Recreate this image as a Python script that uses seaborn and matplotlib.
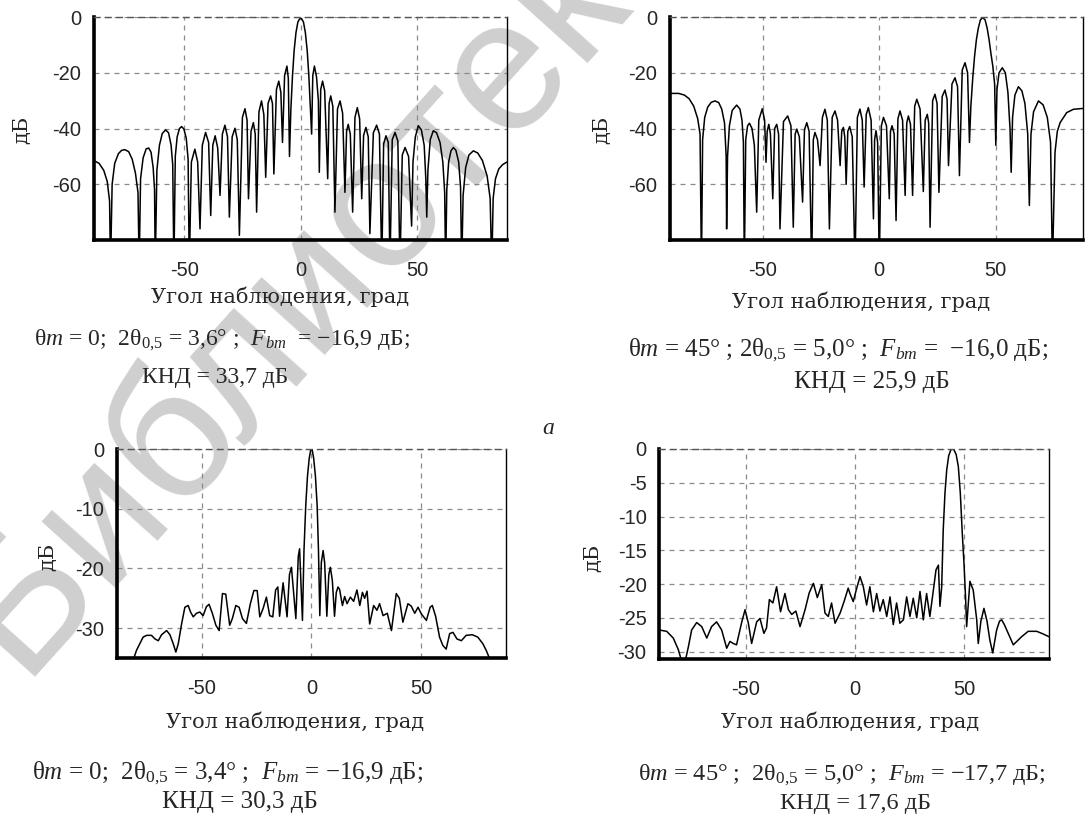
import matplotlib
matplotlib.use("Agg")
import matplotlib.pyplot as plt
from matplotlib.ticker import MultipleLocator
import seaborn as sns

# ---- values: angle (deg) and level (dB) ----
# a) top left, theta_m = 0
tl_angle = [-88.7, -86.5, -84.5, -83.0, -82.0, -81.6, -80.9, -79.8, -78.2, -76.8, -75.4, -73.8, -72.3, -70.9,
            -69.8, -69.3, -68.7, -67.6, -66.3, -65.2, -64.2, -63.3, -62.7, -62.4, -61.7, -60.6, -59.4, -58.0,
            -56.7, -55.6, -54.9, -54.4, -53.8, -53.0, -52.0, -51.1, -50.1, -49.1, -48.3, -47.8, -46.9, -45.4,
            -44.2, -43.2, -42.2, -40.8, -39.5, -38.6, -37.7, -36.7, -35.6, -34.6, -33.6, -32.5, -31.4, -30.6,
            -29.4, -28.2, -27.2, -26.3, -25.0, -23.9, -23.0, -22.4, -21.3, -20.3, -19.5, -18.9, -17.9, -16.8,
            -15.8, -15.0, -14.0, -12.9, -12.1, -11.5, -10.4, -9.4, -8.5, -7.8, -6.9, -5.9, -5.3, -4.8, -4.2,
            -3.5, -2.8, -2.0, -1.2, -0.4, 0.4, 1.2, 2.0, 2.8, 3.5, 4.2, 4.7, 5.2, 5.9, 6.8, 7.6, 8.0, 8.6, 9.4,
            10.3, 11.6, 12.2, 12.9, 13.8, 14.7, 15.8, 16.9, 18.0, 19.0, 19.7, 20.4, 21.3, 22.3, 23.3, 24.3,
            25.3, 26.2, 27.0, 28.0, 29.0, 29.7, 31.2, 32.6, 33.8, 34.8, 35.6, 36.6, 37.6, 38.3, 39.3, 40.5,
            41.7, 42.6, 43.6, 44.8, 46.3, 47.6, 48.2, 49.2, 50.5, 51.8, 53.0, 53.7, 54.1, 54.6, 55.6, 56.9,
            58.3, 59.8, 61.0, 61.8, 62.2, 62.7, 63.5, 64.5, 65.5, 66.6, 67.8, 68.6, 69.1, 69.7, 70.8, 72.2,
            74.1, 76.0, 78.0, 80.0, 81.3, 82.0, 82.6, 83.6, 85.0, 86.6, 88.5]
tl_level = [-51.5, -52.5, -55.0, -59.0, -66.0, -90.0, -60.0, -52.5, -49.0, -47.8, -47.6, -48.3, -51.0, -56.0,
            -63.0, -90.0, -58.0, -50.5, -47.3, -47.0, -48.5, -54.0, -62.0, -90.0, -55.0, -46.0, -41.8, -40.5,
            -41.5, -46.0, -53.0, -90.0, -50.0, -43.0, -40.0, -39.3, -40.2, -43.5, -51.0, -90.0, -52.0, -47.4,
            -52.0, -76.0, -46.0, -41.4, -45.0, -71.2, -46.0, -42.6, -47.0, -64.0, -42.0, -38.8, -43.0, -71.8,
            -43.0, -39.9, -44.0, -78.3, -36.0, -32.9, -37.0, -65.2, -41.0, -37.9, -42.0, -70.0, -34.0, -30.1,
            -35.0, -57.5, -31.0, -28.3, -31.0, -56.3, -26.0, -23.0, -27.0, -45.0, -21.0, -17.6, -22.0, -50.0,
            -33.0, -21.0, -12.0, -5.5, -1.8, -0.6, -0.6, -1.8, -5.5, -12.0, -21.0, -33.0, -42.0, -21.0, -17.6,
            -21.5, -30.0, -55.7, -26.0, -23.0, -26.5, -58.0, -31.0, -28.3, -32.0, -70.0, -33.0, -30.1, -34.5,
            -62.9, -41.0, -38.5, -42.0, -70.0, -36.0, -32.5, -36.5, -65.2, -42.5, -39.6, -43.0, -77.7, -41.5,
            -38.8, -42.0, -90.0, -45.5, -42.6, -45.0, -90.0, -44.0, -41.4, -44.5, -90.0, -49.5, -46.8, -50.0,
            -75.0, -52.0, -43.0, -39.0, -40.5, -46.0, -58.0, -71.8, -55.0, -44.0, -40.8, -41.5, -45.0, -52.0,
            -63.0, -90.0, -62.0, -52.0, -48.0, -46.8, -47.8, -52.0, -61.0, -90.0, -64.0, -54.0, -49.5, -48.0,
            -48.8, -51.5, -57.0, -65.0, -90.0, -65.0, -58.0, -54.5, -53.0, -52.0]

# a) top right, theta_m = 45
tr_angle = [-89.7, -86.0, -83.5, -81.5, -79.5, -77.8, -76.8, -76.2, -75.7, -74.8, -73.5, -72.0, -70.4, -68.8,
            -67.5, -66.3, -65.6, -65.4, -65.0, -64.2, -63.0, -61.1, -59.7, -58.8, -58.2, -57.8, -57.2, -56.4,
            -55.6, -54.5, -53.5, -52.5, -51.6, -50.1, -49.1, -48.5, -48.0, -47.3, -46.6, -45.6, -44.8, -43.9,
            -43.1, -42.5, -41.0, -39.2, -37.8, -36.8, -36.0, -35.3, -34.2, -32.8, -32.0, -31.0, -30.0, -28.9,
            -28.2, -27.5, -26.4, -25.3, -24.3, -23.2, -22.2, -21.3, -20.1, -18.9, -17.8, -16.7, -16.0, -15.3,
            -14.7, -14.1, -13.4, -12.6, -11.5, -10.3, -9.3, -8.2, -7.2, -6.4, -5.5, -4.6, -3.4, -2.4, -1.9,
            -1.3, -0.6, 0.1, 1.0, 1.9, 3.2, 4.4, 4.9, 5.6, 6.5, 7.3, 8.1, 9.0, 10.1, 11.2, 11.9, 12.6, 13.5,
            14.4, 15.3, 16.2, 17.6, 19.0, 19.8, 20.7, 21.3, 21.9, 23.0, 24.0, 24.9, 25.7, 27.1, 28.3, 29.2,
            29.8, 31.3, 32.6, 33.7, 34.5, 35.7, 36.9, 38.0, 38.8, 39.4, 40.2, 41.0, 41.8, 42.6, 43.5, 44.5,
            45.5, 46.4, 47.2, 48.0, 48.8, 49.6, 50.1, 50.6, 51.5, 52.9, 54.2, 55.3, 56.2, 56.7, 57.3, 58.3,
            59.8, 61.3, 62.6, 63.8, 64.5, 65.2, 66.3, 68.4, 70.4, 72.2, 73.6, 74.4, 75.5, 76.5, 77.7, 80.5,
            83.4, 87.4]
tr_level = [-27.4, -27.4, -28.0, -29.3, -32.0, -36.5, -42.0, -90.0, -44.0, -36.0, -32.3, -30.6, -30.1, -30.7,
            -33.0, -38.0, -50.0, -76.0, -50.0, -39.0, -33.5, -31.6, -33.0, -37.0, -45.0, -90.0, -44.0, -39.0,
            -38.1, -40.0, -46.0, -70.0, -37.0, -32.9, -37.0, -52.1, -41.0, -38.5, -42.0, -65.2, -40.0, -38.5,
            -42.0, -76.0, -37.5, -35.5, -39.0, -75.4, -42.0, -40.2, -43.0, -66.4, -40.5, -37.9, -41.0, -90.0,
            -44.0, -41.4, -44.0, -53.3, -36.0, -33.1, -37.0, -76.0, -36.0, -33.7, -37.0, -53.3, -41.0, -39.6,
            -43.0, -60.0, -41.0, -39.3, -43.0, -90.0, -36.0, -33.0, -37.0, -61.0, -35.0, -32.5, -37.0, -72.4,
            -44.0, -40.8, -45.0, -90.0, -39.0, -36.0, -39.0, -65.2, -41.0, -39.0, -42.0, -73.0, -36.5, -33.7,
            -37.0, -64.0, -38.0, -35.5, -38.5, -64.0, -32.0, -29.5, -33.0, -62.6, -37.0, -34.9, -38.0, -75.4,
            -30.0, -27.7, -31.0, -62.9, -28.5, -26.2, -29.5, -53.3, -24.0, -21.8, -25.0, -56.9, -19.0, -16.4,
            -20.0, -45.0, -32.0, -22.0, -14.0, -8.0, -4.0, -1.0, -0.2, -1.0, -4.0, -8.0, -13.0, -17.5, -24.0,
            -46.0, -26.0, -20.0, -18.2, -20.0, -27.0, -40.0, -55.7, -36.0, -28.0, -25.0, -26.5, -31.0, -42.0,
            -67.6, -42.0, -34.0, -30.1, -31.5, -36.0, -45.0, -90.0, -48.6, -41.0, -37.9, -34.3, -33.1, -32.8]

# б) bottom left, theta_m = 0
bl_angle = [-88.5, -81.5, -80.8, -79.6, -78.1, -76.6, -75.0, -72.8, -71.2, -69.7, -68.2, -65.9, -64.4, -62.9,
            -61.7, -60.6, -59.1, -57.6, -56.1, -55.0, -53.8, -52.3, -50.8, -49.3, -47.8, -46.6, -45.1, -43.5,
            -42.0, -40.5, -39.0, -37.2, -36.0, -34.4, -32.9, -31.4, -29.6, -27.8, -26.2, -24.7, -23.5, -22.0,
            -20.5, -19.0, -17.6, -16.3, -15.3, -14.5, -12.9, -11.1, -10.0, -9.1, -7.1, -6.0, -5.4, -4.1, -3.4,
            -2.6, -1.8, -1.0, -0.3, 0.3, 1.0, 1.8, 2.6, 3.2, 3.8, 4.5, 5.3, 6.0, 7.0, 7.9, 8.6, 9.5, 10.5, 11.3,
            12.1, 12.8, 14.1, 15.1, 16.2, 17.7, 19.2, 20.7, 22.0, 23.2, 24.2, 25.3, 26.5, 28.3, 29.8, 31.0,
            32.6, 34.5, 36.4, 38.6, 40.0, 41.6, 43.9, 45.4, 47.0, 48.5, 50.0, 52.3, 54.0, 55.0, 56.5, 58.3,
            59.8, 61.3, 62.9, 64.4, 66.2, 68.2, 70.4, 73.2, 75.7, 78.0, 79.5, 81.3, 82.5, 88.5]
bl_level = [-36.0, -36.0, -35.0, -33.7, -32.6, -31.5, -31.2, -31.2, -31.8, -32.1, -31.1, -30.4, -31.1, -32.6,
            -34.0, -32.6, -29.3, -26.5, -26.2, -27.3, -28.1, -27.5, -27.3, -27.9, -26.4, -26.0, -27.5, -29.5,
            -30.4, -24.2, -24.3, -29.5, -28.4, -26.2, -26.5, -28.4, -29.2, -25.9, -23.7, -23.7, -28.1, -26.7,
            -24.8, -27.9, -28.1, -23.6, -23.1, -28.0, -22.4, -28.1, -21.0, -19.8, -28.4, -18.0, -16.7, -28.7,
            -17.0, -9.5, -4.5, -1.5, -0.1, -0.1, -1.5, -4.5, -9.5, -17.0, -27.9, -19.0, -17.0, -19.0, -28.0,
            -21.0, -19.8, -22.0, -28.0, -24.0, -23.1, -23.5, -26.2, -24.7, -25.9, -24.8, -25.5, -23.6, -26.2,
            -24.0, -25.0, -23.8, -29.3, -26.2, -27.0, -25.9, -27.9, -27.5, -30.4, -24.2, -25.0, -29.0, -25.9,
            -26.3, -27.5, -26.5, -27.6, -28.7, -26.5, -26.2, -28.0, -31.5, -32.9, -33.5, -30.9, -30.7, -31.8,
            -32.1, -31.2, -31.1, -31.5, -32.6, -33.7, -35.3, -36.0, -36.0]

# б) bottom right, theta_m = 45
br_angle = [-89.5, -86.0, -83.0, -80.7, -79.1, -77.6, -76.1, -74.6, -72.3, -70.0, -67.7, -65.5, -63.2, -60.9,
            -58.6, -57.1, -55.6, -54.1, -51.7, -50.2, -48.7, -47.2, -44.9, -43.4, -41.6, -40.4, -39.1, -37.5,
            -35.8, -34.0, -32.0, -30.4, -28.9, -27.0, -25.1, -22.8, -20.9, -19.0, -17.2, -15.2, -13.7, -12.2,
            -10.7, -9.1, -6.8, -5.0, -3.1, -2.3, -0.8, 0.8, 2.3, 3.8, 5.3, 6.8, 8.4, 9.9, 11.4, 12.9, 14.5,
            16.0, 17.5, 19.0, 20.5, 22.1, 23.6, 25.1, 26.6, 28.2, 29.7, 31.2, 32.7, 34.2, 35.8, 37.0, 38.1,
            38.8, 39.6, 40.3, 41.1, 41.9, 42.8, 43.8, 45.0, 46.2, 47.2, 48.1, 49.0, 49.8, 50.5, 51.0, 52.5,
            54.0, 55.6, 56.3, 57.5, 58.9, 60.3, 61.6, 62.9, 64.7, 66.0, 67.0, 68.2, 69.3, 72.3, 74.2, 76.1,
            79.1, 83.0, 86.0, 88.6]
br_level = [-26.8, -27.0, -28.0, -29.7, -31.5, -31.5, -29.3, -26.8, -25.7, -26.3, -28.0, -26.3, -25.6, -26.8,
            -29.5, -28.5, -28.8, -29.0, -25.6, -23.8, -25.8, -28.8, -25.6, -25.1, -27.3, -26.5, -22.3, -22.8,
            -20.4, -24.1, -21.4, -23.8, -24.5, -24.0, -26.3, -23.8, -21.3, -19.9, -22.0, -20.1, -24.3, -24.8,
            -22.8, -25.8, -24.3, -22.6, -20.6, -21.4, -22.6, -20.6, -18.9, -20.4, -23.1, -20.4, -24.1, -21.4,
            -24.0, -22.3, -24.8, -21.9, -26.0, -22.8, -25.8, -25.3, -21.9, -24.8, -22.1, -25.0, -21.1, -25.3,
            -21.4, -24.8, -20.9, -17.9, -17.2, -23.3, -20.4, -12.0, -6.5, -3.1, -1.0, -0.1, 0.0, -0.8, -2.6,
            -6.5, -12.5, -17.0, -22.0, -26.3, -19.6, -20.9, -25.3, -28.8, -25.5, -23.6, -25.5, -28.3, -30.2,
            -26.8, -25.5, -25.3, -26.0, -26.8, -29.0, -28.4, -27.8, -27.0, -27.0, -27.4, -27.8]

x_ticks = [-50, 0, 50]
tl_yticks = [-60, -40, -20, 0]
bl_yticks = [-30, -20, -10, 0]
br_yticks = [-30, -25, -20, -15, -10, -5, 0]

x_title = "Угол наблюдения, град"
y_title = "дБ"

cap_tl = [r"$\mathrm{\theta}m$ = 0;  2$\mathrm{\theta}_{0{,}5}$ = 3,6° ;  $F_{bm}$  = −16,9 дБ;",
          "КНД = 33,7 дБ"]
cap_tr = [r"$\mathrm{\theta}m$ = 45° ; 2$\mathrm{\theta}_{0{,}5}$ = 5,0° ;  $F_{bm}$ =  −16,0 дБ;",
          "КНД = 25,9 дБ"]
cap_bl = [r"$\mathrm{\theta}m$ = 0;  2$\mathrm{\theta}_{0{,}5}$ = 3,4° ;  $F_{bm}$ = −16,9 дБ;",
          "КНД = 30,3 дБ"]
cap_br = [r"$\mathrm{\theta}m$ = 45° ;  2$\mathrm{\theta}_{0{,}5}$ = 5,0° ;  $F_{bm}$ = −17,7 дБ;",
          "КНД = 17,6 дБ"]

sns.set_style("white")
plt.rcParams["font.family"] = ["Liberation Sans", "DejaVu Sans"]
plt.rcParams["axes.unicode_minus"] = False
plt.rcParams["mathtext.fontset"] = "custom"
plt.rcParams["mathtext.rm"] = "Liberation Serif"
plt.rcParams["mathtext.it"] = "Liberation Serif:italic"

fig = plt.figure(figsize=(10.85, 8.15), dpi=100)

# faint library watermark lying under the plots
fig.text(0.300, 0.675, "Библиотека", rotation=48, fontsize=135, color="#cfcfcf",
         ha="center", va="center", zorder=-1, family="Liberation Sans")


def panel(rect, angle, level, xlim, ylim, yticks, yminor, xlab_pos, ylab_pos):
    ax = fig.add_axes(rect)
    ax.set_facecolor("none")
    sns.lineplot(x=angle, y=level, ax=ax, color="black", linewidth=1.1,
                 estimator=None, sort=False)
    ax.set_xlim(*xlim)
    ax.set_ylim(*ylim)
    ax.set_xticks(x_ticks)
    ax.set_yticks(yticks)
    ax.xaxis.set_minor_locator(MultipleLocator(12.5))
    ax.yaxis.set_minor_locator(MultipleLocator(yminor))
    ax.grid(True, which="major", color="#8a8a8a", linestyle=(0, (4, 4)), linewidth=0.9)
    for side in ["left", "bottom"]:
        ax.spines[side].set_linewidth(2.6)
        ax.spines[side].set_color("black")
    ax.spines["right"].set_linewidth(1.0)
    ax.spines["right"].set_color("black")
    ax.spines["top"].set_linewidth(1.0)
    ax.spines["top"].set_color("#555555")
    ax.spines["top"].set_linestyle((0, (4, 4)))
    ax.tick_params(which="both", direction="out", length=4, width=0.8, color="#555555",
                   top=False, right=False, labelsize=14.5)
    ax.tick_params(axis="x", which="major", pad=11)
    ax.tick_params(axis="y", which="major", pad=5)
    ax.set_xlabel(x_title, fontsize=15, family="DejaVu Serif", va="center")
    ax.set_ylabel(y_title, fontsize=15, family="DejaVu Serif", va="center")
    ax.xaxis.set_label_coords(*xlab_pos)
    ax.yaxis.set_label_coords(*ylab_pos)
    return ax


panel([0.0866, 0.7055, 0.3806, 0.2736], tl_angle, tl_level, (-88.7, 88.5), (-80, 0),
      tl_yticks, 5, (0.45, -0.256), (-0.174, 0.493))
panel([0.6175, 0.7055, 0.3804, 0.2736], tr_angle, tr_level, (-89.7, 87.4), (-80, 0),
      tl_yticks, 5, (0.463, -0.278), (-0.165, 0.493))
panel([0.1078, 0.1926, 0.3585, 0.2564], bl_angle, bl_level, (-88.5, 88.5), (-35, 0),
      bl_yticks, 2.5, (0.458, -0.306), (-0.177, 0.483))
panel([0.6074, 0.1914, 0.3594, 0.2577], br_angle, br_level, (-89.5, 88.6), (-31.1, 0),
      br_yticks, 1.25, (0.49, -0.30), (-0.169, 0.48))

cap_style = dict(va="center", family="Liberation Serif")
# top left
fig.text(34 / 1085, 1 - 340 / 815, cap_tl[0], ha="left", fontsize=17, **cap_style)
fig.text(215 / 1085, 1 - 378 / 815, cap_tl[1], ha="center", fontsize=17, **cap_style)
# top right
fig.text(628 / 1085, 1 - 350 / 815, cap_tr[0], ha="left", fontsize=18, **cap_style)
fig.text(872 / 1085, 1 - 382 / 815, cap_tr[1], ha="center", fontsize=18, **cap_style)
# bottom left
fig.text(32 / 1085, 1 - 773 / 815, cap_bl[0], ha="left", fontsize=18, **cap_style)
fig.text(240 / 1085, 1 - 802 / 815, cap_bl[1], ha="center", fontsize=18, **cap_style)
# bottom right
fig.text(638 / 1085, 1 - 775 / 815, cap_br[0], ha="left", fontsize=17.5, **cap_style)
fig.text(855 / 1085, 1 - 803 / 815, cap_br[1], ha="center", fontsize=17.5, **cap_style)

fig.text(0.505, 0.4748, "а", ha="center", va="center", fontsize=17,
         family="Liberation Serif", style="italic")

fig.savefig("out.png", dpi=100)
